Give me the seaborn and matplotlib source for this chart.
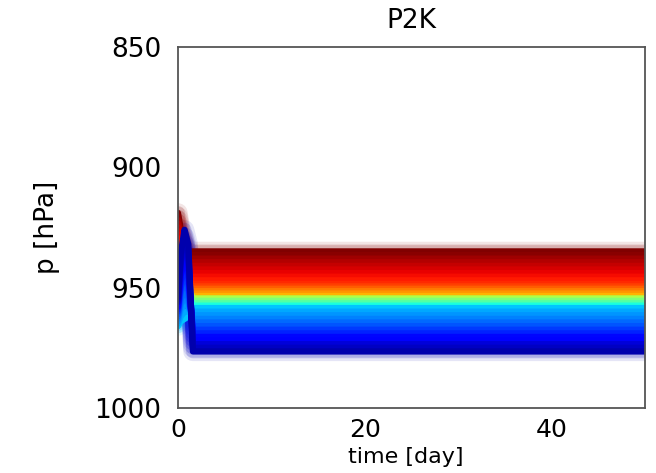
import matplotlib
matplotlib.use("Agg")
import matplotlib.pyplot as plt
import pandas as pd
import seaborn as sns

sns.set_style("white")
plt.rcParams["font.family"] = ["DejaVu Sans"]
for k in ["text.color", "axes.labelcolor", "xtick.color", "ytick.color"]:
    plt.rcParams[k] = "black"

# ensemble members, listed from the top of the band to the bottom
# colour value of each member on the jet colormap
member_c = [1.00, 0.99, 0.97, 0.955, 0.94, 0.925, 0.91, 0.895, 0.88, 0.865,
            0.84, 0.81, 0.78, 0.75, 0.72,
            0.56, 0.50, 0.45, 0.38,
            0.32, 0.29, 0.27, 0.25, 0.23, 0.21, 0.18, 0.16, 0.13, 0.11,
            0.08, 0.06, 0.04]

# pressure [hPa] of each member at a few times [day]
times = [0, 0.3, 0.7, 1.1, 1.6, 50]
p_day0 = [919, 920.5, 922, 923.5, 925, 926.5, 928, 929.5, 931, 932.5,
          934, 936, 938, 940, 942,
          944, 946, 948, 950,
          966, 965, 964, 963, 962, 961, 960, 959, 958, 957, 956, 955, 954]
p_day0_3 = [926, 927, 928.5, 930, 931.5, 933, 934.5, 936, 937.5, 939,
            939, 940, 941, 942, 943,
            940, 941, 942, 943,
            964, 962, 959, 957, 955, 952, 950, 948, 945, 943, 940, 938, 936]
p_day0_7 = [931, 932, 933.5, 935, 936.5, 938, 939.5, 941, 942.5, 944,
            944, 945, 946, 947, 948,
            945, 946, 947, 948,
            963, 960, 957, 954, 951, 948, 945, 942, 939, 936, 932, 929, 926]
p_day1_1 = [935, 936.5, 938, 939.5, 941, 942.5, 944, 945.5, 947, 948.5,
            948, 949, 950, 951, 951.5,
            950, 951, 952, 953,
            962, 960, 958, 956, 954, 951, 948, 945, 942, 939, 936, 934, 932]
p_steady = [935, 936.5, 938, 939.5, 941, 942.5, 944, 945.5, 947, 948.5,
            949.5, 950.5, 951.5, 952.5, 953.5,
            954.5, 955.5, 956.5, 957.5,
            958.5, 960, 961.5, 963, 964.5, 966, 967.5, 969, 970.5, 972,
            973.5, 975, 976.5]

names = [f"m{i + 1:02d}" for i in range(len(member_c))]
columns = [p_day0, p_day0_3, p_day0_7, p_day1_1, p_steady, p_steady]
rows = []
for t, col in zip(times, columns):
    for n, p in zip(names, col):
        rows.append({"member": n, "time": t, "p": p})
df = pd.DataFrame(rows)

cmap = plt.get_cmap("jet")
palette = {n: cmap(c) for n, c in zip(names, member_c)}

fig, ax = plt.subplots(figsize=(6.56, 4.73), dpi=100)
fig.subplots_adjust(left=0.2713, right=0.9832, top=0.9013, bottom=0.1374)

# soft edges first, then the solid lines
for lw, a in [(14, 0.1), (10, 0.15)]:
    sns.lineplot(data=df, x="time", y="p", hue="member", hue_order=names,
                 palette=palette, estimator=None, legend=False,
                 linewidth=lw, alpha=a, ax=ax)
sns.lineplot(data=df, x="time", y="p", hue="member", hue_order=names,
             palette=palette, estimator=None, legend=False,
             linewidth=4.5, ax=ax)

ax.set_xlim(0, 50)
ax.set_ylim(1000, 850)
ax.set_xticks([0, 20, 40])
ax.set_yticks([850, 900, 950, 1000])
ax.tick_params(axis="y", length=0, pad=12, labelsize=19)
ax.tick_params(axis="x", direction="in", length=2, pad=7, labelsize=18)

for s in ax.spines.values():
    s.set_color("#555555")
    s.set_linewidth(1.3)

ax.set_title("P2K", fontsize=19, pad=13.5)
ax.set_xlabel("time [day]", fontsize=16)
ax.set_ylabel("p [hPa]", fontsize=19)
ax.xaxis.set_label_coords(0.488, -0.108)
ax.yaxis.set_label_coords(-0.253, 0.5)

fig.savefig("out.png", dpi=100)
